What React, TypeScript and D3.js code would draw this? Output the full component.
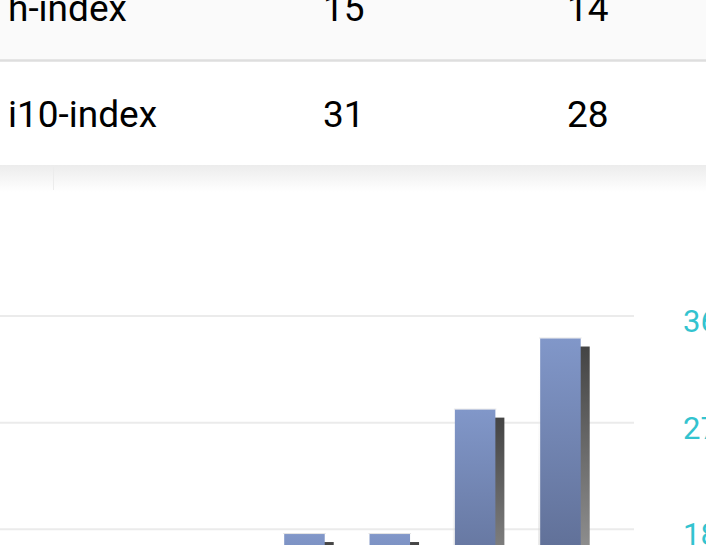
import * as d3 from 'd3';
import React, {useEffect, useRef} from 'react';

// table rows (label, all, since)
const rowLabels = ['h-index', 'i10-index'];
const allValues = [15, 31];
const sinceValues = [14, 28];

// citations chart (only the right part is visible)
const years = ['2021', '2022', '2023', '2024'];
const citations = [17.6, 17.6, 28.1, 34.1];
const yTicks = [18, 27, 36];

const W = 706, H = 545;

export default function App() {
    const ref = useRef(null);

    useEffect(() => {
        const svg = d3.select(ref.current);
        svg.selectAll('*').remove();

        const defs = svg.append('defs');
        const barGrad = defs.append('linearGradient')
            .attr('id', 'barGrad').attr('x1', 0).attr('x2', 0).attr('y1', 0).attr('y2', 1);
        barGrad.append('stop').attr('offset', '0%').attr('stop-color', '#8197c9');
        barGrad.append('stop').attr('offset', '100%').attr('stop-color', '#434d6b');

        const shadowGrad = defs.append('linearGradient')
            .attr('id', 'shadowGrad').attr('x1', 0).attr('x2', 0).attr('y1', 0).attr('y2', 1);
        shadowGrad.append('stop').attr('offset', '0%').attr('stop-color', '#444444');
        shadowGrad.append('stop').attr('offset', '100%').attr('stop-color', '#d8d8d8');

        const edgeGrad = defs.append('linearGradient')
            .attr('id', 'edgeGrad').attr('x1', 0).attr('x2', 0).attr('y1', 0).attr('y2', 1);
        edgeGrad.append('stop').attr('offset', '0%').attr('stop-color', '#ffffff').attr('stop-opacity', 0);
        edgeGrad.append('stop').attr('offset', '100%').attr('stop-color', '#a0a0a0');

        const cardShadow = defs.append('linearGradient')
            .attr('id', 'cardShadow').attr('x1', 0).attr('x2', 0).attr('y1', 0).attr('y2', 1);
        cardShadow.append('stop').attr('offset', '0%').attr('stop-color', '#ececec');
        cardShadow.append('stop').attr('offset', '100%').attr('stop-color', '#ffffff');

        svg.append('rect').attr('width', W).attr('height', H).attr('fill', '#ffffff');

        // ---- table ----
        const rowTop = [-45, 61];
        const rowH = [105, 104];
        const table = svg.append('g').attr('id', 'table');
        table.append('rect').attr('x', 0).attr('y', 165).attr('width', W).attr('height', 27)
            .attr('fill', 'url(#cardShadow)');
        table.append('line').attr('x1', 53.5).attr('x2', 53.5).attr('y1', 167).attr('y2', 190)
            .attr('stroke', '#ececec').attr('stroke-width', 1);
        rowLabels.forEach((lab, i) => {
            table.append('rect').attr('x', 0).attr('y', rowTop[i]).attr('width', W).attr('height', rowH[i])
                .attr('fill', i === 0 ? '#fafafa' : '#ffffff');
            const base = rowTop[i] + 66;
            const t = table.append('g').attr('font-family', 'Roboto').attr('font-size', 37).attr('fill', '#000000');
            t.append('text').attr('x', 8).attr('y', base).text(lab);
            t.append('text').attr('x', 323).attr('y', base).text(allValues[i]);
            t.append('text').attr('x', 567).attr('y', base).text(sinceValues[i]);
        });
        table.append('line').attr('x1', 0).attr('x2', W).attr('y1', 60.5).attr('y2', 60.5)
            .attr('stroke', '#dedede').attr('stroke-width', 2.5);

        // ---- chart ----
        const x = d3.scaleBand()
            .domain(years)
            .range([261.8, 603.1])
            .paddingInner(0.525)
            .paddingOuter(0.2625);
        const y = d3.scaleLinear()
            .domain([0, 36])
            .range([742.6, 316]);

        const chart = svg.append('g').attr('id', 'chart');

        // gridlines
        chart.selectAll('.grid')
            .data(yTicks)
            .enter()
            .append('line')
            .attr('x1', 0)
            .attr('x2', 634)
            .attr('y1', (d) => y(d))
            .attr('y2', (d) => y(d))
            .attr('stroke', '#ebebeb')
            .attr('stroke-width', 2);

        // right axis labels
        chart.selectAll('.tick')
            .data(yTicks)
            .enter()
            .append('text')
            .attr('x', 683)
            .attr('y', (d) => y(d) + 16)
            .attr('font-family', 'Roboto')
            .attr('font-size', 31)
            .attr('fill', '#33c3cf')
            .text((d) => d);

        const bw = x.bandwidth();
        years.forEach((yr, i) => {
            const bx = x(yr);
            const by = y(citations[i]);
            const bh = y(0) - by;
            // shadow
            chart.append('rect')
                .attr('x', bx + 9).attr('y', by + 8)
                .attr('width', bw).attr('height', bh)
                .attr('fill', 'url(#shadowGrad)');
            // faint left edge
            chart.append('rect')
                .attr('x', bx - 2).attr('y', by + 2)
                .attr('width', 2).attr('height', bh)
                .attr('fill', 'url(#edgeGrad)');
            // top highlight
            chart.append('line')
                .attr('x1', bx - 1).attr('x2', bx + bw + 1)
                .attr('y1', by - 0.5).attr('y2', by - 0.5)
                .attr('stroke', '#e4e4e4').attr('stroke-width', 1);
            // bar
            chart.append('rect')
                .attr('x', bx).attr('y', by)
                .attr('width', bw).attr('height', bh)
                .attr('fill', 'url(#barGrad)');
        });
    }, []);

    return (
        <svg ref={ref} width={W} height={H}
            style={{position: 'absolute', left: 0, top: 0, display: 'block'}} />
    );
}
